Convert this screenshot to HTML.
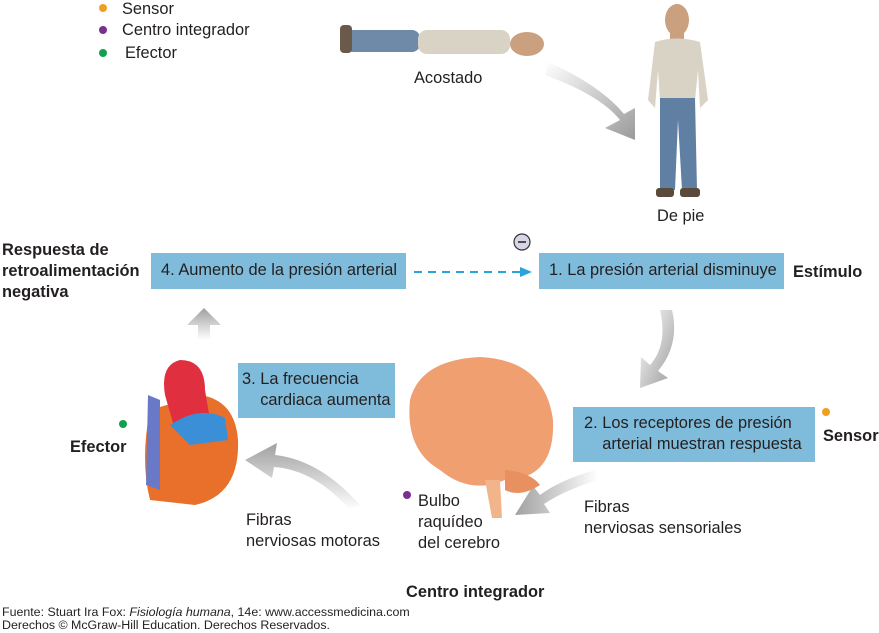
<!DOCTYPE html>
<html><head><meta charset="utf-8"><style>
body{margin:0;width:879px;height:633px;background:#fff;position:relative;overflow:hidden;font-family:"Liberation Sans",sans-serif;color:#231f20}
.t{position:absolute;font-size:16.4px;line-height:19px;white-space:nowrap}
.b{font-weight:bold}
.box{position:absolute;background:#7fbcdc;font-size:16.4px;line-height:21px;color:#231f20;box-sizing:border-box;white-space:nowrap}
.dot{position:absolute;width:8px;height:8px;border-radius:50%}
</style></head><body>
<svg width="879" height="633" style="position:absolute;left:0;top:0">
<defs>
<linearGradient id="g1" x1="0" y1="0" x2="1" y2="1"><stop offset="0" stop-color="#fff"/><stop offset="1" stop-color="#9a9a9a"/></linearGradient>
<linearGradient id="g2" x1="1" y1="0" x2="0" y2="0"><stop offset="0" stop-color="#fff"/><stop offset="1" stop-color="#a0a0a0"/></linearGradient>
<linearGradient id="g3" x1="0" y1="1" x2="0" y2="0"><stop offset="0" stop-color="#fff"/><stop offset="1" stop-color="#a0a0a0"/></linearGradient>
</defs>
<path d="M545 75 Q600 95 620 120 L605 128 L635 140 L635 108 L624 114 Q600 85 548 62 Z" fill="url(#g1)"/>
<path d="M660 310 Q668 345 650 365 L641 357 L640 388 L668 378 L658 371 Q680 345 672 310 Z" fill="url(#g1)"/>
<path d="M595 470 Q560 480 540 495 L533 486 L515 515 L550 513 L544 504 Q565 490 598 480 Z" fill="url(#g2)"/>
<path d="M360 505 Q320 460 275 455 L277 443 L245 460 L272 478 L274 467 Q315 470 350 510 Z" fill="url(#g3)"/>
<path d="M198 340 L198 325 L187 325 L204 308 L221 325 L210 325 L210 340 Z" fill="url(#g3)"/>
<line x1="414" y1="272" x2="520" y2="272" stroke="#29a3dc" stroke-width="2" stroke-dasharray="8,6"/>
<path d="M520 267 L532 272 L520 277 Z" fill="#29a3dc"/>
<circle cx="522" cy="242" r="8" fill="#d6d6e6" stroke="#333" stroke-width="1.2"/>
<line x1="518" y1="242" x2="526" y2="242" stroke="#222" stroke-width="1.5"/>
<rect x="345" y="30" width="75" height="22" rx="8" fill="#6f89a8"/>
<rect x="418" y="30" width="92" height="24" rx="9" fill="#d9d3c6"/>
<ellipse cx="527" cy="44" rx="17" ry="12" fill="#caa07e"/>
<rect x="340" y="25" width="12" height="28" rx="4" fill="#6a5a4a"/>
<ellipse cx="677" cy="20" rx="12" ry="16" fill="#caa07e"/>
<rect x="670" y="33" width="14" height="8" fill="#caa07e"/>
<path d="M655 42 Q677 35 700 42 L708 100 L700 108 L698 70 L695 100 L660 100 L658 70 L655 108 L648 100 Z" fill="#d9d3c6"/>
<path d="M660 98 L695 98 L697 190 L682 190 L678 120 L675 190 L660 190 Z" fill="#5f7fa3"/>
<rect x="656" y="188" width="18" height="9" rx="3" fill="#5a4a3a"/><rect x="680" y="188" width="20" height="9" rx="3" fill="#5a4a3a"/>
<path d="M150 410 Q140 460 150 500 L195 505 Q240 495 238 440 Q235 400 200 395 Z" fill="#e8702a"/>
<path d="M148 395 L160 400 L160 490 L146 485 Z" fill="#6a78c8"/>
<path d="M165 395 Q160 365 180 360 Q205 360 205 390 L210 420 L175 430 Z" fill="#e03040"/>
<path d="M170 425 Q200 405 225 418 L228 440 L190 445 Z" fill="#3a8fd6"/>
<path d="M410 400 Q420 360 480 357 Q545 360 553 420 Q555 470 520 478 L505 480 Q470 495 440 470 Q405 450 410 400 Z" fill="#f0a070"/>
<path d="M485 480 L500 480 L502 518 L492 518 Z" fill="#f2b48a"/>
<path d="M505 470 Q530 472 540 485 Q520 498 505 490 Z" fill="#e89060"/>
</svg>
<div class="dot" style="left:99px;top:4px;background:#f0a020"></div><div class="t" style="left:122px;top:0px">Sensor</div>
<div class="dot" style="left:99px;top:26px;background:#7a3090"></div><div class="t" style="left:122px;top:21px">Centro integrador</div>
<div class="dot" style="left:99px;top:49px;background:#10a050"></div><div class="t" style="left:125px;top:44px">Efector</div>
<div class="t" style="left:414px;top:69px">Acostado</div>
<div class="t" style="left:657px;top:207px">De pie</div>
<div class="t b" style="left:2px;top:240px;line-height:21px">Respuesta de<br>retroalimentación<br>negativa</div>
<div class="box" style="left:151px;top:253px;width:255px;height:36px;padding:7px 0 0 10px">4. Aumento de la presión arterial</div>
<div class="box" style="left:539px;top:253px;width:245px;height:36px;padding:7px 0 0 10px">1. La presión arterial disminuye</div>
<div class="t b" style="left:793px;top:263px">Estímulo</div>
<div class="box" style="left:238px;top:363px;width:157px;height:55px;padding:6px 0 0 4px">3. La frecuencia<br>&nbsp;&nbsp;&nbsp;&nbsp;cardiaca aumenta</div>
<div class="box" style="left:573px;top:407px;width:242px;height:55px;padding:6px 0 0 11px">2. Los receptores de presión<br>&nbsp;&nbsp;&nbsp;&nbsp;arterial muestran respuesta</div>
<div class="dot" style="left:822px;top:408px;background:#f0a020"></div>
<div class="t b" style="left:823px;top:427px">Sensor</div>
<div class="dot" style="left:119px;top:420px;background:#10a050"></div>
<div class="t b" style="left:70px;top:438px">Efector</div>
<div class="dot" style="left:403px;top:491px;background:#7a3090"></div>
<div class="t" style="left:418px;top:491px;line-height:21px">Bulbo<br>raquídeo<br>del cerebro</div>
<div class="t" style="left:584px;top:497px;line-height:21px">Fibras<br>nerviosas sensoriales</div>
<div class="t" style="left:246px;top:510px;line-height:21px">Fibras<br>nerviosas motoras</div>
<div class="t b" style="left:406px;top:583px">Centro integrador</div>
<div class="t" style="left:2px;top:606px;font-size:12.4px;line-height:13px">Fuente: Stuart Ira Fox: <i>Fisiología humana</i>, 14e: www.accessmedicina.com<br>Derechos © McGraw-Hill Education. Derechos Reservados.</div>
</body></html>
